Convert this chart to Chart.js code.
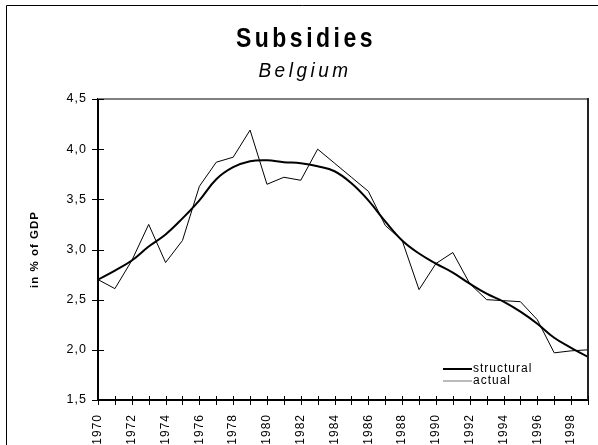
<!DOCTYPE html>
<html>
<head>
<meta charset="utf-8">
<script src="https://cdn.jsdelivr.net/npm/chart.js@4/dist/chart.umd.min.js"></script>
<style>
  html, body { margin: 0; padding: 0; background: #fff; }
  #chart { display: block; }
</style>
</head>
<body>
<canvas id="chart" width="598" height="445"></canvas>
<script>
var titleText = 'Subsidies';
var subtitleText = 'Belgium';
var yAxisTitle = 'in % of GDP';

var years = [1970, 1971, 1972, 1973, 1974, 1975, 1976, 1977, 1978, 1979,
             1980, 1981, 1982, 1983, 1984, 1985, 1986, 1987, 1988, 1989,
             1990, 1991, 1992, 1993, 1994, 1995, 1996, 1997, 1998, 1999];
var structural = [2.70, 2.79, 2.89, 3.03, 3.15, 3.31, 3.49, 3.70, 3.82, 3.88,
                  3.89, 3.87, 3.86, 3.83, 3.78, 3.66, 3.49, 3.28, 3.09, 2.96,
                  2.86, 2.77, 2.66, 2.56, 2.48, 2.38, 2.26, 2.12, 2.02, 1.93];
var actual = [2.70, 2.61, 2.89, 3.25, 2.87, 3.09, 3.63, 3.87, 3.92, 4.19,
              3.65, 3.72, 3.69, 4.00, 3.86, 3.72, 3.58, 3.24, 3.09, 2.60,
              2.86, 2.97, 2.66, 2.50, 2.49, 2.48, 2.30, 1.97, 1.99, 2.00];
var yTicks = [1.5, 2.0, 2.5, 3.0, 3.5, 4.0, 4.5];

function toPoints(vals) {
    return years.map(function(y, i) { return {x: y, y: vals[i]}; });
}

// letter spacing like the old excel rendering
var spacingPlugin = {
    id: 'spacing',
    beforeUpdate: function(chart) { chart.ctx.letterSpacing = '1px'; },
    beforeDraw: function(chart) { chart.ctx.letterSpacing = '1px'; }
};

var framePlugin = {
    id: 'frame',
    afterDraw: function(chart) {
        var ctx = chart.ctx;
        var area = chart.chartArea;
        var xs = chart.scales.x, ys = chart.scales.y;
        ctx.save();

        // outer box
        ctx.strokeStyle = '#000';
        ctx.lineWidth = 1;
        ctx.beginPath();
        ctx.moveTo(6.5, 460);
        ctx.lineTo(6.5, 5.5);
        ctx.lineTo(620, 5.5);
        ctx.stroke();

        // top and right border of plot
        ctx.strokeStyle = '#808080';
        ctx.lineWidth = 2;
        ctx.beginPath();
        ctx.moveTo(area.left, area.top);
        ctx.lineTo(area.right, area.top);
        ctx.stroke();
        ctx.strokeStyle = '#222';
        ctx.beginPath();
        ctx.moveTo(area.right, area.top - 1);
        ctx.lineTo(area.right, area.bottom);
        ctx.stroke();

        // tick marks crossing the axes
        ctx.strokeStyle = '#000';
        ctx.lineWidth = 1;
        ctx.beginPath();
        years.forEach(function(yr) {
            var px = Math.round(xs.getPixelForValue(yr)) + 0.5;
            ctx.moveTo(px, area.bottom - 4);
            ctx.lineTo(px, area.bottom + 5);
        });
        yTicks.forEach(function(v) {
            var py = Math.round(ys.getPixelForValue(v)) + 0.5;
            ctx.moveTo(area.left - 6, py);
            ctx.lineTo(area.left + 6, py);
        });
        ctx.stroke();

        // titles
        ctx.fillStyle = '#000';
        ctx.textAlign = 'center';
        ctx.textBaseline = 'alphabetic';
        ctx.letterSpacing = '3.5px';
        ctx.font = 'bold 23px "Liberation Sans", Arial, sans-serif';
        ctx.save();
        ctx.translate(306, 47);
        ctx.scale(1, 1.2);
        ctx.fillText(titleText, 0, 0);
        ctx.restore();
        ctx.letterSpacing = '3.5px';
        ctx.font = 'italic 19px "Liberation Sans", Arial, sans-serif';
        ctx.save();
        ctx.translate(305, 77);
        ctx.scale(1, 1.1);
        ctx.fillText(subtitleText, 0, 0);
        ctx.restore();

        // legend
        ctx.letterSpacing = '1px';
        ctx.font = '12px "Liberation Sans", Arial, sans-serif';
        ctx.textAlign = 'left';
        ctx.textBaseline = 'middle';
        chart.data.datasets.forEach(function(ds, i) {
            var ly = 369 + i * 12;
            ctx.strokeStyle = ds.legendColor;
            ctx.lineWidth = ds.borderWidth;
            ctx.beginPath();
            ctx.moveTo(443, ly);
            ctx.lineTo(472, ly);
            ctx.stroke();
            ctx.fillStyle = '#000';
            ctx.fillText(ds.label, 473, ly);
        });
        ctx.restore();
    }
};

var ctx = document.getElementById('chart').getContext('2d');
var chart = new Chart(ctx, {
    type: 'line',
    data: {
        datasets: [{
            label: 'structural',
            data: toPoints(structural),
            borderColor: '#000',
            legendColor: '#000',
            borderWidth: 2,
            pointRadius: 0,
            tension: 0.4,
            fill: false
        }, {
            label: 'actual',
            data: toPoints(actual),
            borderColor: '#000',
            legendColor: '#777',
            borderWidth: 1,
            pointRadius: 0,
            tension: 0,
            fill: false
        }]
    },
    options: {
        responsive: false,
        animation: false,
        events: [],
        layout: { padding: { left: 0, top: 99, right: 10, bottom: 0 } },
        plugins: {
            legend: { display: false },
            tooltip: { enabled: false },
            title: { display: false }
        },
        scales: {
            x: {
                type: 'linear',
                min: 1970,
                max: 1999,
                grid: { display: false, drawTicks: false },
                border: { display: true, color: '#000', width: 2 },
                ticks: {
                    stepSize: 1,
                    autoSkip: false,
                    maxRotation: 90,
                    minRotation: 90,
                    padding: 14,
                    color: '#000',
                    font: { family: '"Liberation Sans", Arial, sans-serif', size: 12 },
                    callback: function(v) { return v % 2 === 0 ? String(v) : ''; }
                },
                afterFit: function(scale) {
                    scale.height = 45;
                    scale.paddingLeft = 0;
                    scale.paddingRight = 0;
                }
            },
            y: {
                min: 1.5,
                max: 4.5,
                grid: { display: false, drawTicks: false },
                border: { display: true, color: '#000', width: 2 },
                ticks: {
                    stepSize: 0.5,
                    padding: 11,
                    color: '#000',
                    font: { family: '"Liberation Sans", Arial, sans-serif', size: 12.5 },
                    callback: function(v) { return v.toFixed(1).replace('.', ','); }
                },
                title: {
                    display: true,
                    text: yAxisTitle,
                    color: '#000',
                    padding: { top: 28, bottom: 0 },
                    font: { family: '"Liberation Sans", Arial, sans-serif', size: 11.5, weight: 'bold' }
                },
                afterFit: function(scale) { scale.width = 98; }
            }
        }
    },
    plugins: [spacingPlugin, framePlugin]
});
</script>
</body>
</html>
